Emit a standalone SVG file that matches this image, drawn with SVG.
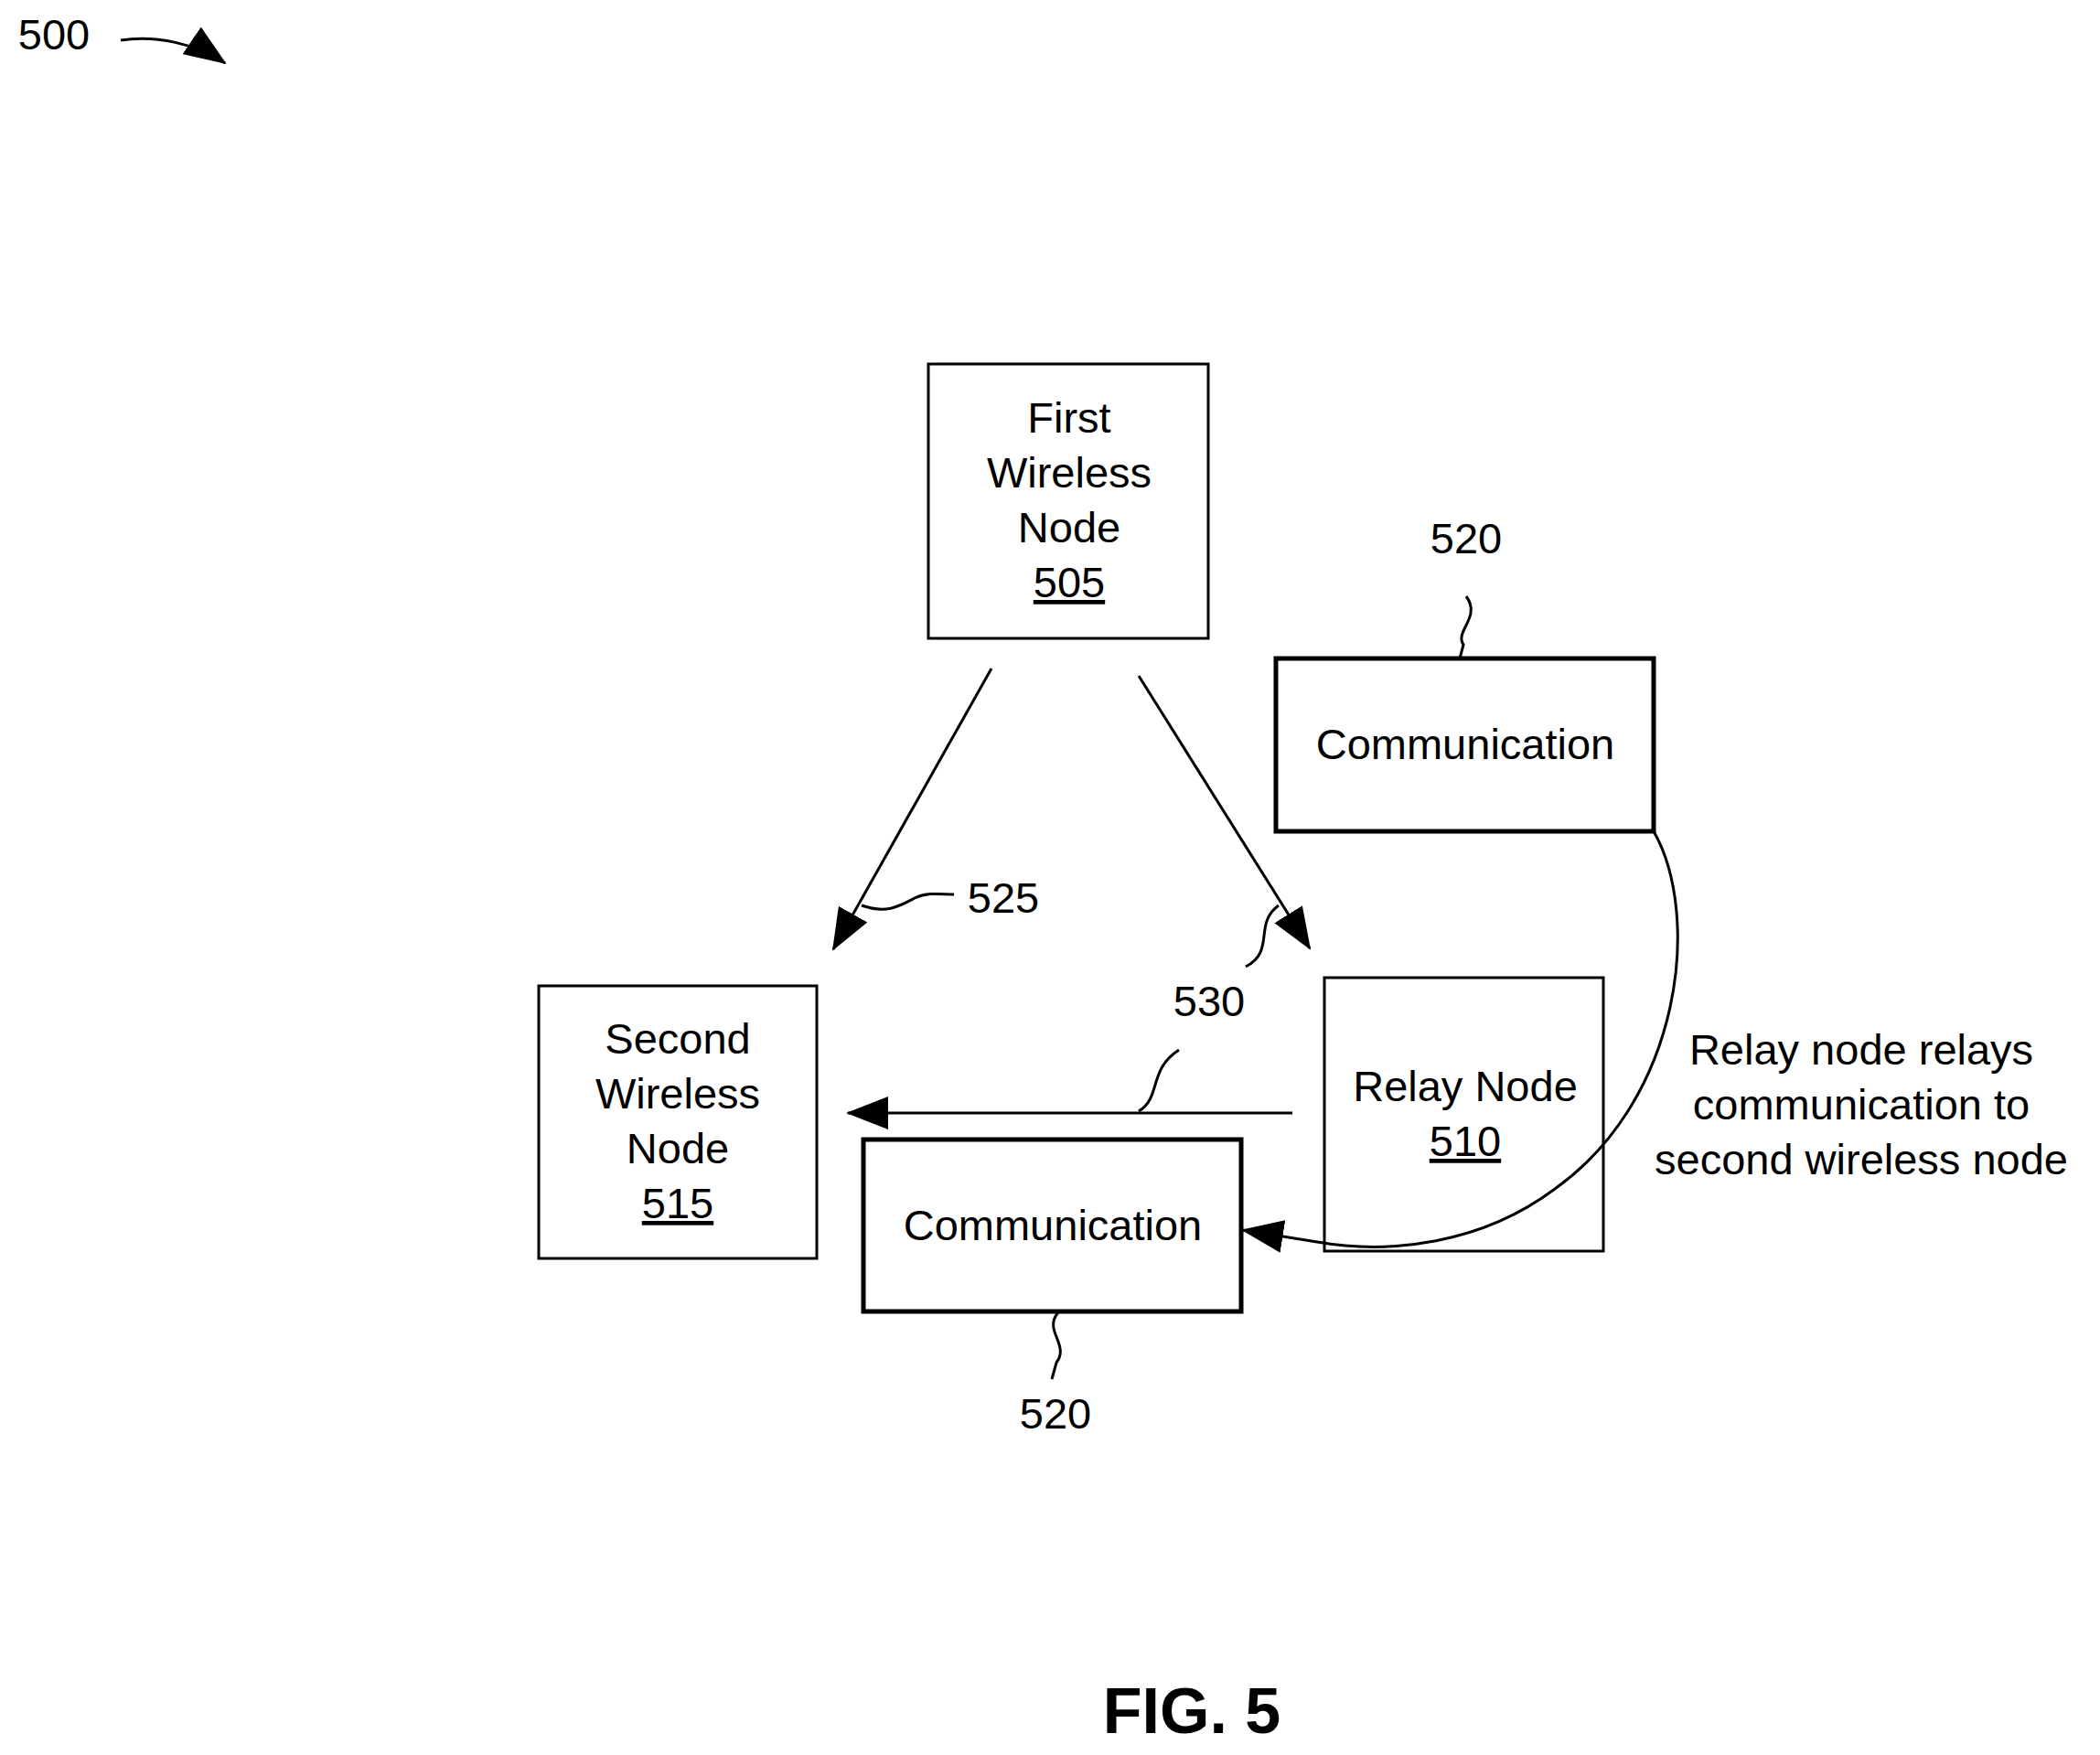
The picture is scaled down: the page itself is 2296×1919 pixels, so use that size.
<svg xmlns="http://www.w3.org/2000/svg" width="2296" height="1919" viewBox="0 0 2296 1919">
<style>
text{font-family:"Liberation Sans",Arial,sans-serif;font-size:47px;fill:#000;text-anchor:middle}
.box{fill:#fff;stroke:#000;stroke-width:3}
.thick{fill:#fff;stroke:#000;stroke-width:5}
.ln{fill:none;stroke:#000;stroke-width:3}
</style>
<defs>
<marker id="ah" markerUnits="userSpaceOnUse" markerWidth="46" markerHeight="36" refX="44" refY="18" orient="auto">
<path d="M0,0 L46,18 L0,36 Z" fill="#000"/>
</marker>
</defs>
<rect width="2296" height="1919" fill="#fff"/>
<g id="connectors">
<path class="ln" d="M1084,731 L911,1038" marker-end="url(#ah)"/>
<path class="ln" d="M1245,739 L1432,1037" marker-end="url(#ah)"/>
<path class="ln" d="M1413,1217 L927,1217" marker-end="url(#ah)"/>
<path class="ln" stroke-width="4" d="M1808,909 C1860,1000 1840,1200 1700,1300 C1620,1360 1520,1372 1440,1358 L1359,1345" marker-end="url(#ah)"/>
<path class="ln" d="M132,44 C170,38 215,48 246,69" marker-end="url(#ah)"/>
<path class="ln" d="M1603,652 C1620,675 1590,690 1600,705 L1596,720"/>
<path class="ln" d="M1157,1435 C1140,1455 1170,1470 1155,1490 L1150,1508"/>
<path class="ln" d="M942,990 C970,1000 985,990 1000,982 C1015,975 1030,978 1043,978"/>
<path class="ln" d="M1362,1057 C1395,1040 1370,1010 1398,990"/>
<path class="ln" d="M1245,1215 C1270,1200 1255,1170 1289,1148"/>
</g>
<g id="n505"><rect class="box" x="1015" y="398" width="306" height="300"/>
<text x="1169" y="473">First</text><text x="1169" y="533">Wireless</text><text x="1169" y="593">Node</text><text x="1169" y="653" text-decoration="underline">505</text></g>
<g id="c520a"><rect class="thick" x="1395" y="720" width="413" height="189"/><text x="1602" y="830">Communication</text></g>
<g id="n515"><rect class="box" x="589" y="1078" width="304" height="298"/>
<text x="741" y="1152">Second</text><text x="741" y="1212">Wireless</text><text x="741" y="1272">Node</text><text x="741" y="1332" text-decoration="underline">515</text></g>
<g id="n510"><rect class="box" x="1448" y="1069" width="305" height="299" fill="none" style="fill:none"/>
<text x="1602" y="1204">Relay Node</text><text x="1602" y="1264" text-decoration="underline">510</text></g>
<g id="c520b"><rect class="thick" x="944" y="1246" width="413" height="188"/><text x="1151" y="1356">Communication</text></g>
<g id="labels">
<text x="59" y="54">500</text>
<text x="1603" y="605">520</text>
<text x="1154" y="1562">520</text>
<text x="1097" y="998">525</text>
<text x="1322" y="1111">530</text>
<text x="2035" y="1164">Relay node relays</text>
<text x="2035" y="1224">communication to</text>
<text x="2035" y="1284">second wireless node</text>
<text x="1303" y="1895" style="font-size:70px;font-weight:bold">FIG. 5</text>
</g>
</svg>
